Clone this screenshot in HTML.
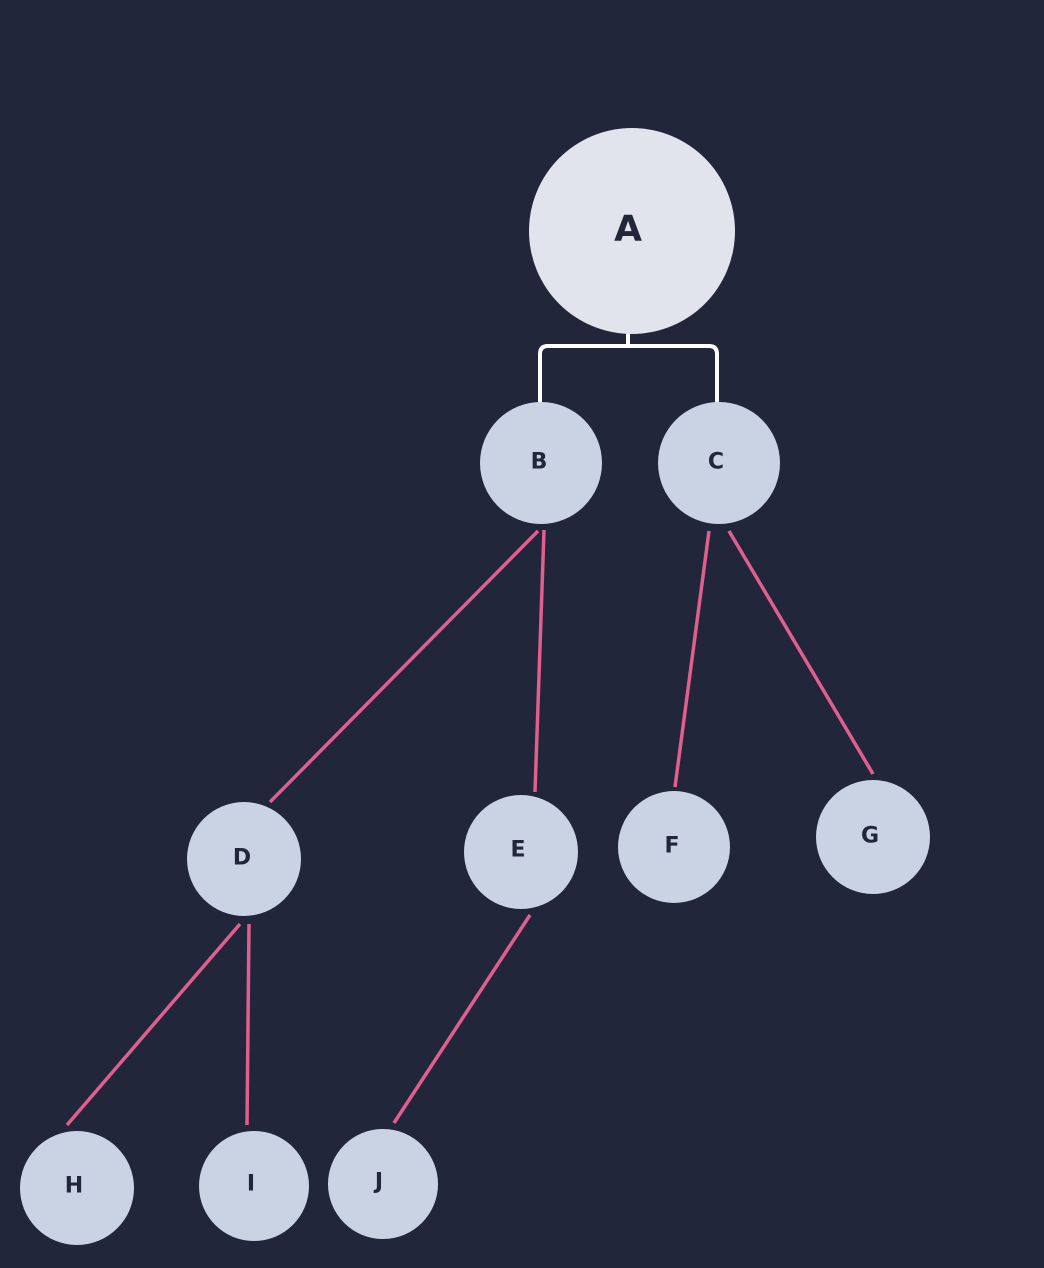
<!DOCTYPE html>
<html><head><meta charset="utf-8"><style>
html,body{margin:0;padding:0;background:#22263a;}
svg{display:block}
text{font-family:"DejaVu Sans","Liberation Sans",sans-serif;font-weight:bold;fill:#22263a;text-anchor:middle;dominant-baseline:central}
</style></head><body>
<svg width="1044" height="1268" viewBox="0 0 1044 1268">
<rect width="1044" height="1268" fill="#22263a"/>
<g stroke="#df5f8e" stroke-width="3.5" fill="none">
<line x1="538" y1="531" x2="270" y2="802"/>
<line x1="544" y1="530" x2="535" y2="792"/>
<line x1="709" y1="531" x2="675" y2="787"/>
<line x1="729" y1="531" x2="873" y2="774"/>
<line x1="240" y1="924" x2="67" y2="1125"/>
<line x1="249" y1="924" x2="247" y2="1125"/>
<line x1="530" y1="915" x2="394" y2="1123"/>
</g>
<path d="M628 330 V346 M540 405 V354 Q540 346 548 346 H709 Q717 346 717 354 V405" stroke="#fff" stroke-width="4" fill="none"/>
<circle cx="632" cy="231" r="103" fill="#e1e4ec"/>
<g fill="#c9d3e4">
<circle cx="541" cy="463" r="61"/>
<circle cx="719" cy="463" r="61"/>
<circle cx="244" cy="859" r="57"/>
<circle cx="521" cy="852" r="57"/>
<circle cx="674" cy="847" r="56"/>
<circle cx="873" cy="837" r="57"/>
<circle cx="77" cy="1188" r="57"/>
<circle cx="254" cy="1186" r="55"/>
<circle cx="383" cy="1184" r="55"/>
</g>
<text x="628" y="229" font-size="36">A</text>
<text x="539" y="462" font-size="22">B</text>
<text x="716" y="462" font-size="22">C</text>
<text x="242" y="858" font-size="22">D</text>
<text x="518" y="850" font-size="22">E</text>
<text x="672" y="846" font-size="22">F</text>
<text x="870" y="836" font-size="22">G</text>
<text x="74" y="1186" font-size="22">H</text>
<text x="251" y="1184" font-size="22">I</text>
<text x="379" y="1182" font-size="22">J</text>
</svg>
</body></html>
